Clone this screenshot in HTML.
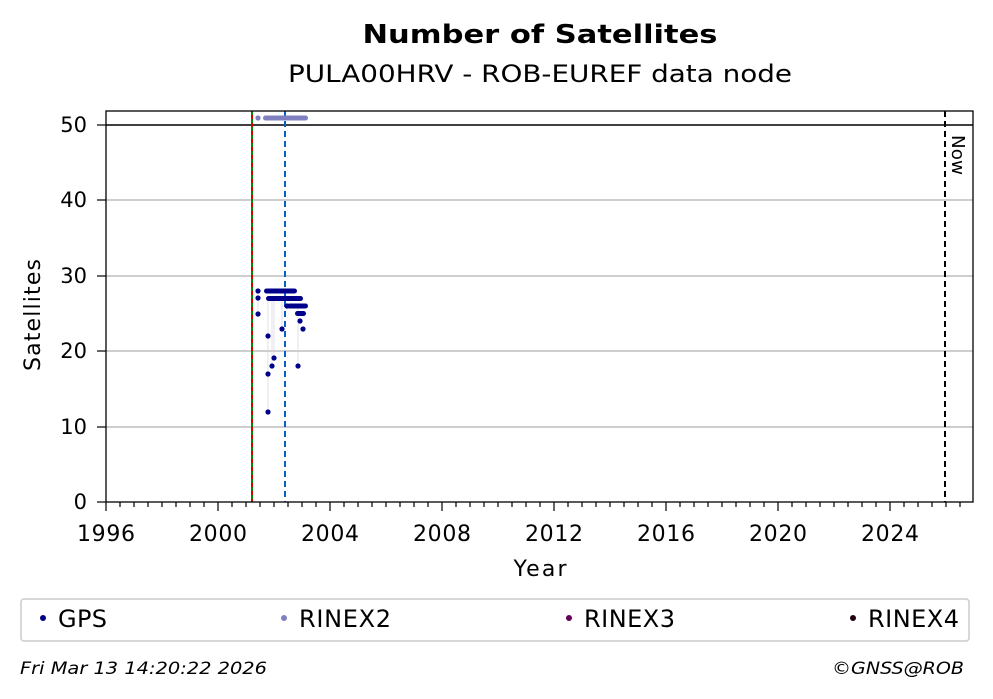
<!DOCTYPE html><html><head><style>body{margin:0;background:#fff}svg{display:block}text{font-family:"DejaVu Sans","Liberation Sans",sans-serif}</style></head><body>
<svg width="993" height="699" viewBox="0 0 993 699">
<text x="540" y="43" text-anchor="middle" font-size="26" font-weight="bold" textLength="355" lengthAdjust="spacingAndGlyphs">Number of Satellites</text>
<text x="540" y="82" text-anchor="middle" font-size="24" textLength="504" lengthAdjust="spacingAndGlyphs">PULA00HRV - ROB-EUREF data node</text>
<g stroke="#b0b0b0" stroke-width="1.2">
<line x1="106" x2="973" y1="427" y2="427"/><line x1="106" x2="973" y1="351" y2="351"/><line x1="106" x2="973" y1="276" y2="276"/><line x1="106" x2="973" y1="200" y2="200"/></g>
<line x1="106" x2="973" y1="125" y2="125" stroke="#000" stroke-width="1.5"/>
<line x1="252" x2="252" y1="111" y2="502" stroke="#d00" stroke-width="2"/>
<line x1="252" x2="252" y1="111" y2="502" stroke="#080" stroke-width="2" stroke-dasharray="4,4"/>
<line x1="285" x2="285" y1="111" y2="502" stroke="#0a5fc7" stroke-width="2" stroke-dasharray="6,4"/>
<line x1="945" x2="945" y1="111" y2="502" stroke="#000" stroke-width="2" stroke-dasharray="6,4"/>
<text x="952" y="135" font-size="18" transform="rotate(90 952 135)" textLength="40" lengthAdjust="spacingAndGlyphs">Now</text>
<g stroke="#ccd" stroke-width="0.6"><line x1="268" y1="298" x2="268" y2="412"/><line x1="272" y1="298" x2="272" y2="366"/><line x1="274" y1="298" x2="274" y2="358"/><line x1="298" y1="306" x2="298" y2="366"/><line x1="282" y1="298" x2="282" y2="329"/><line x1="258" y1="298" x2="258" y2="314"/></g>
<g fill="#00008b">
<rect x="264" y="288.5" width="33" height="5" rx="2.5"/><rect x="266" y="296" width="37" height="5" rx="2.5"/><rect x="287" y="303.5" width="21" height="5" rx="2.5"/><rect x="295" y="311" width="11" height="5" rx="2.5"/>
<circle cx="258" cy="291" r="2.6"/><circle cx="258" cy="298" r="2.6"/><circle cx="258" cy="314" r="2.6"/><circle cx="268" cy="336" r="2.6"/><circle cx="272" cy="366" r="2.6"/><circle cx="274" cy="358" r="2.6"/><circle cx="268" cy="374" r="2.6"/><circle cx="268" cy="412" r="2.6"/><circle cx="282" cy="329" r="2.6"/><circle cx="298" cy="366" r="2.6"/><circle cx="303" cy="329" r="2.6"/><circle cx="300" cy="321" r="2.6"/><circle cx="287" cy="306" r="2.6"/></g>
<g fill="#8080c0"><circle cx="258" cy="118" r="2.6"/><rect x="263" y="115.5" width="45" height="5" rx="2.5"/></g>
<rect x="106" y="111" width="867" height="391" fill="none" stroke="#000" stroke-width="1.3"/>
<g stroke="#000" stroke-width="1.2">
<line x1="97" x2="106" y1="502" y2="502"/><line x1="97" x2="106" y1="427" y2="427"/><line x1="97" x2="106" y1="351" y2="351"/><line x1="97" x2="106" y1="276" y2="276"/><line x1="97" x2="106" y1="200" y2="200"/><line x1="97" x2="106" y1="125" y2="125"/>
<path d="M106 502v9M218 502v9M330 502v9M442 502v9M554 502v9M666 502v9M778 502v9M890 502v9"/>
<path d="M120 502v5M134 502v5M148 502v5M162 502v5M176 502v5M190 502v5M204 502v5M232 502v5M246 502v5M260 502v5M274 502v5M288 502v5M302 502v5M316 502v5M344 502v5M358 502v5M372 502v5M386 502v5M400 502v5M414 502v5M428 502v5M456 502v5M470 502v5M484 502v5M498 502v5M512 502v5M526 502v5M540 502v5M568 502v5M582 502v5M596 502v5M610 502v5M624 502v5M638 502v5M652 502v5M680 502v5M694 502v5M708 502v5M722 502v5M736 502v5M750 502v5M764 502v5M792 502v5M806 502v5M820 502v5M834 502v5M848 502v5M862 502v5M876 502v5M904 502v5M918 502v5M932 502v5M946 502v5M960 502v5"/></g>
<g font-size="21" text-anchor="end"><text x="87" y="509">0</text><text x="87" y="434">10</text><text x="87" y="358">20</text><text x="87" y="283">30</text><text x="87" y="207">40</text><text x="87" y="132">50</text></g>
<g font-size="22" text-anchor="middle" lengthAdjust="spacingAndGlyphs"><text x="106" y="541" textLength="58">1996</text><text x="218" y="541" textLength="58">2000</text><text x="330" y="541" textLength="58">2004</text><text x="442" y="541" textLength="58">2008</text><text x="554" y="541" textLength="58">2012</text><text x="666" y="541" textLength="58">2016</text><text x="778" y="541" textLength="58">2020</text><text x="890" y="541" textLength="58">2024</text>
<text x="540" y="576" textLength="53">Year</text><text x="40" y="315" transform="rotate(-90 40 315)" textLength="112">Satellites</text></g>
<rect x="21" y="599" width="948" height="42" rx="3" fill="#fff" stroke="#ccc" stroke-width="1.5"/>
<g font-size="24" lengthAdjust="spacingAndGlyphs"><circle cx="43" cy="618" r="3" fill="#00008b"/><text x="58" y="627" textLength="49">GPS</text>
<circle cx="284" cy="618" r="3" fill="#8080c0"/><text x="299" y="627" textLength="92">RINEX2</text>
<circle cx="569" cy="618" r="3" fill="#660055"/><text x="584" y="627" textLength="91">RINEX3</text>
<circle cx="853" cy="618" r="3" fill="#220011"/><text x="868" y="627" textLength="91">RINEX4</text></g>
<text x="20" y="674" font-size="17" font-style="italic" textLength="247" lengthAdjust="spacingAndGlyphs">Fri Mar 13 14:20:22 2026</text>
<text x="964" y="674" font-size="17" font-style="italic" text-anchor="end" textLength="132" lengthAdjust="spacingAndGlyphs">©GNSS@ROB</text>
</svg></body></html>
